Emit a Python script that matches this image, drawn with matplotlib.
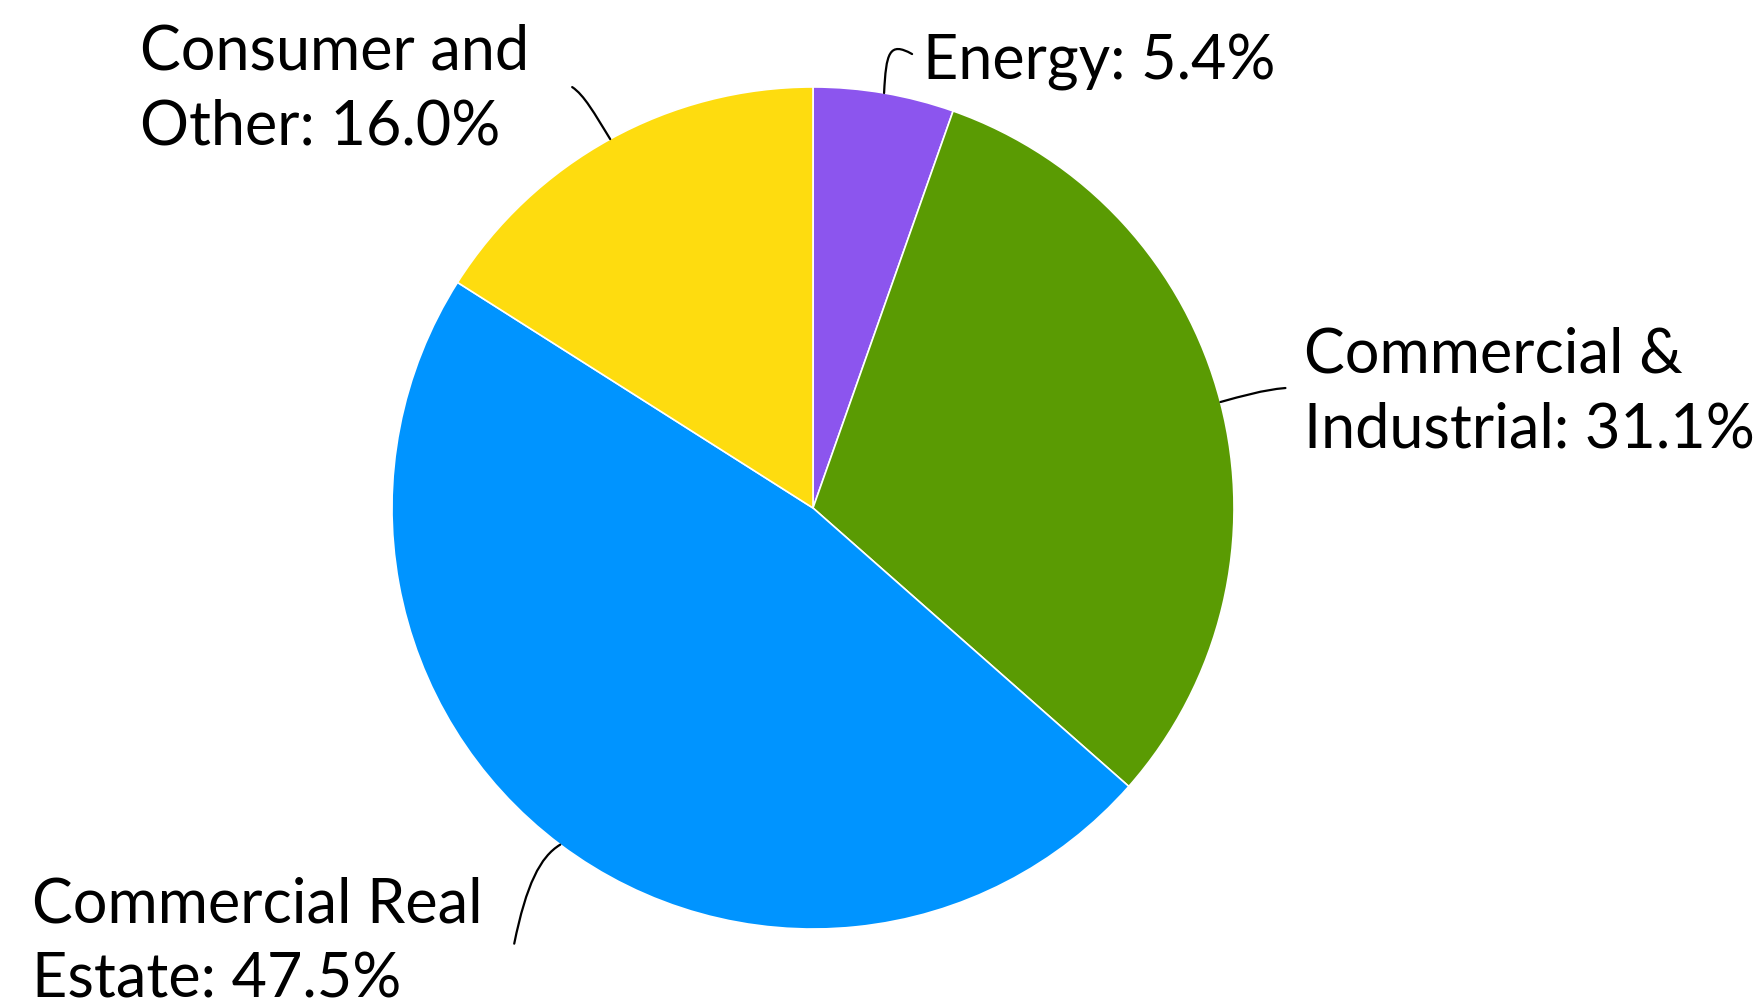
import numpy as np
import matplotlib
matplotlib.use("Agg")
import matplotlib.pyplot as plt
from matplotlib.path import Path
from matplotlib.patches import PathPatch

# Loan portfolio composition (percent)
categories = ["Energy", "Commercial &\nIndustrial", "Commercial Real\nEstate", "Consumer and\nOther"]
shares = [5.4, 31.1, 47.5, 16.0]
colors = ["#8C55EE", "#5A9B03", "#0094FF", "#FEDC0F"]

W, H = 1762, 1008
fig = plt.figure(figsize=(W / 100, H / 100), dpi=100)
ax = fig.add_axes([0, 0, 1, 1])

cx, cy, R = 813, H - 508, 421
wedges, _ = ax.pie(shares, colors=colors, startangle=90, counterclock=False,
                   center=(cx, cy), radius=R, frame=True,
                   wedgeprops=dict(edgecolor="white", linewidth=1.2))
ax.set_xlim(0, W)
ax.set_ylim(0, H)
ax.set_aspect("equal")
ax.axis("off")

LINE_GAP = 75  # pixel distance between label lines

# label text anchor (left, first-line baseline) and leader curve controls,
# both relative to the point on the rim at the wedge's mid-angle
label_style = [
    dict(text=(39, 14), ctrl=[(2, 40), (5, 52), (28, 39)]),
    dict(text=(84, 30), ctrl=[(22, 6), (42, 12), (65, 14)]),
    dict(text=(-528, -78), ctrl=[(-20, -12), (-34, -40), (-46, -99)]),
    dict(text=(-470, 70), ctrl=[(-16, 26), (-26, 44), (-38, 52)]),
]

for w, cat, val, st in zip(wedges, categories, shares, label_style):
    mid = np.deg2rad((w.theta1 + w.theta2) / 2)
    px, py = cx + R * np.cos(mid), cy + R * np.sin(mid)
    pts = [(px, py)] + [(px + dx, py + dy) for dx, dy in st["ctrl"]]
    path = Path(pts, [Path.MOVETO, Path.CURVE4, Path.CURVE4, Path.CURVE4])
    ax.add_patch(PathPatch(path, facecolor="none", edgecolor="black", lw=1.6,
                           capstyle="round"))
    lines = f"{cat}: {val:.1f}%".split("\n")
    tx, ty = px + st["text"][0], py + st["text"][1]
    for i, line in enumerate(lines):
        ax.text(tx, ty - i * LINE_GAP, line, fontsize=44, family="Lato",
                ha="left", va="baseline", color="black")

fig.savefig("out.png", dpi=100, facecolor="white")
